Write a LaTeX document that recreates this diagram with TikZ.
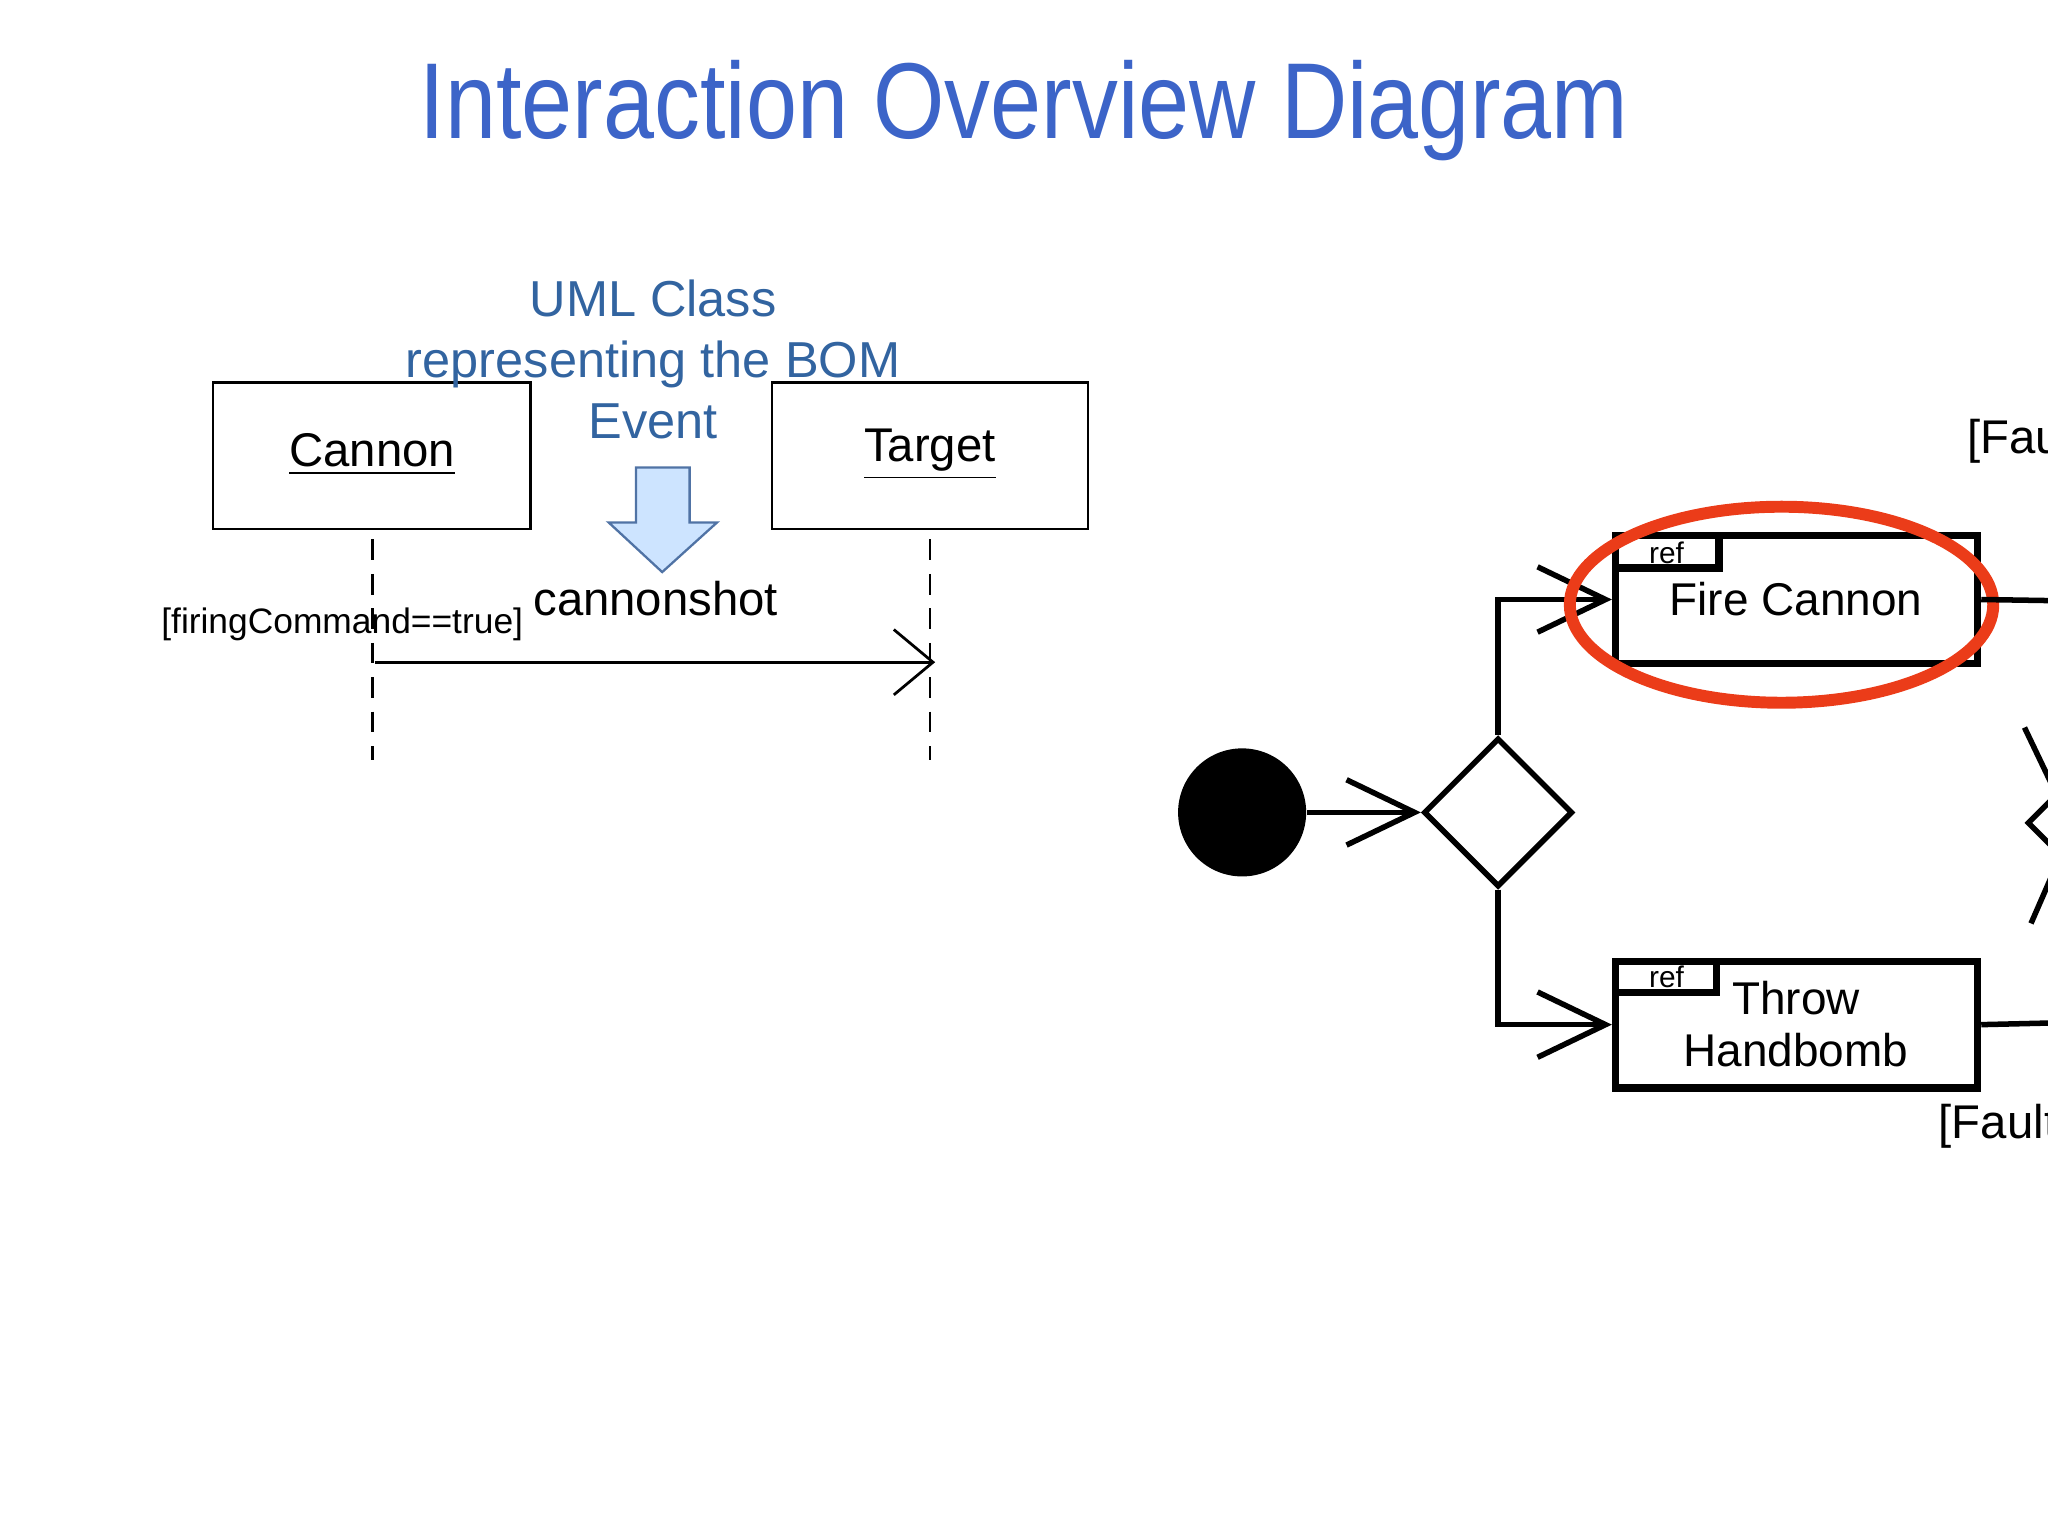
\documentclass[tikz,border=0pt]{standalone}
\usepackage{fontspec}
\setmainfont{Liberation Sans}
\usetikzlibrary{arrows.meta,shapes.geometric}
\definecolor{titleblue}{RGB}{60,100,200}
\definecolor{noteblue}{RGB}{50,100,160}
\definecolor{ared}{RGB}{235,60,25}
\begin{document}
\begin{tikzpicture}[x=0.01cm,y=-0.01cm,
  box/.style={draw,line width=0.6pt},
  tbox/.style={draw,line width=1.6pt},
  life/.style={dash pattern=on 4.5pt off 3pt,line width=0.6pt},
  big/.style={line width=1.2pt,-{Straight Barb[length=5.2mm,width=5mm,line width=1.2pt]}},
  lbl/.style={font=\fontsize{10.3}{12}\selectfont}]
\useasboundingbox (0,0) rectangle (1568,1176);
\clip (0,0) rectangle (1568,1176);
\node[titleblue] (title) at (784,85) {\scalebox{0.85}[1]{\fontsize{23.5}{28}\selectfont Interaction Overview Diagram}};
% lifelines
\draw[box] (163,293) rectangle (406,405);
\node[lbl] (cannon) at (285,348) {\underline{Cannon}};
\draw[box] (591,293) rectangle (833,405);
\node[lbl] (target) at (712,348) {\underline{Target}};
\coordinate (c1) at (285,413); \coordinate (c2) at (285,582);
\coordinate (t1) at (712,413); \coordinate (t2) at (712,582);
\draw[life] (c1) -- (c2);
\draw[life] (t1) -- (t2);
\node[noteblue,font=\fontsize{11}{13.3}\selectfont,align=center] (note) at (500,275) {UML Class\\representing the BOM\\Event};
\draw[fill={rgb,255:red,205;green,228;blue,255},draw={rgb,255:red,80;green,115;blue,165},line width=0.5pt]
 (487,358) -- (528,358) -- (528,400) -- (549,400) -- (507,438) -- (466,400) -- (487,400) -- cycle;
\node[lbl] (shot) at (502,458) {cannonshot};
\node[font=\fontsize{7.7}{9}\selectfont] (guard) at (262,478) {[firingCommand==true]};
\coordinate (m1) at (287,507); \coordinate (m2) at (716,507);
\draw[line width=0.6pt,-{Straight Barb[length=3mm,width=5mm,line width=0.6pt]}] (m1) -- (m2);
% activity
\node[circle,fill=black,minimum size=0.98cm,inner sep=0] (init) at (951,622) {};
\node[diamond,draw,line width=1.2pt,minimum width=1.14cm,minimum height=1.14cm,inner sep=0] (dec) at (1147,622) {};
\draw[big] (init) -- (dec.west);
\node[tbox,minimum width=2.77cm,minimum height=0.98cm,inner sep=0] (fire) at (1375.5,459) {};
\node[font=\fontsize{10}{12}\selectfont] at (1375,459) {Fire Cannon};
\draw[tbox] (1237,435) -- (1316,435) -- (1316,410);
\node[font=\fontsize{6.5}{8}\selectfont] at (1276,423) {ref};
\node[tbox,minimum width=2.77cm,minimum height=0.97cm,inner sep=0] (throw) at (1375.5,784.5) {};
\node[font=\fontsize{10}{11.5}\selectfont,align=center] at (1375,784) {Throw\\Handbomb};
\draw[tbox] (1237,760) -- (1314,760) -- (1314,736);
\node[font=\fontsize{6.5}{8}\selectfont] at (1276,748) {ref};
\draw[big] (dec.north) |- (fire.west);
\draw[big] (dec.south) |- (throw.west);
\node[ellipse,draw=ared,line width=2.6pt,minimum width=3.24cm,minimum height=1.5cm] (hl) at (1364,463) {};
\coordinate (r1) at (1580,460); \coordinate (r2) at (1580,783);
\draw[line width=1.2pt] (fire.east) -- (r1);
\draw[line width=1.2pt] (throw.east) -- (r2);
\coordinate (d0) at (1553,630);
\draw[line width=1.2pt] (1580,603) -- (d0) -- (1580,657);
\draw[line width=1.2pt] (1550,557) -- (1572,603);
\draw[line width=1.2pt] (1555,707) -- (1572,668);
\node[lbl,anchor=west] (f1) at (1494,338) {[Faulty]};
\node[lbl,anchor=west] (f2) at (1472,862) {[Faulty]};
\end{tikzpicture}
\end{document}
